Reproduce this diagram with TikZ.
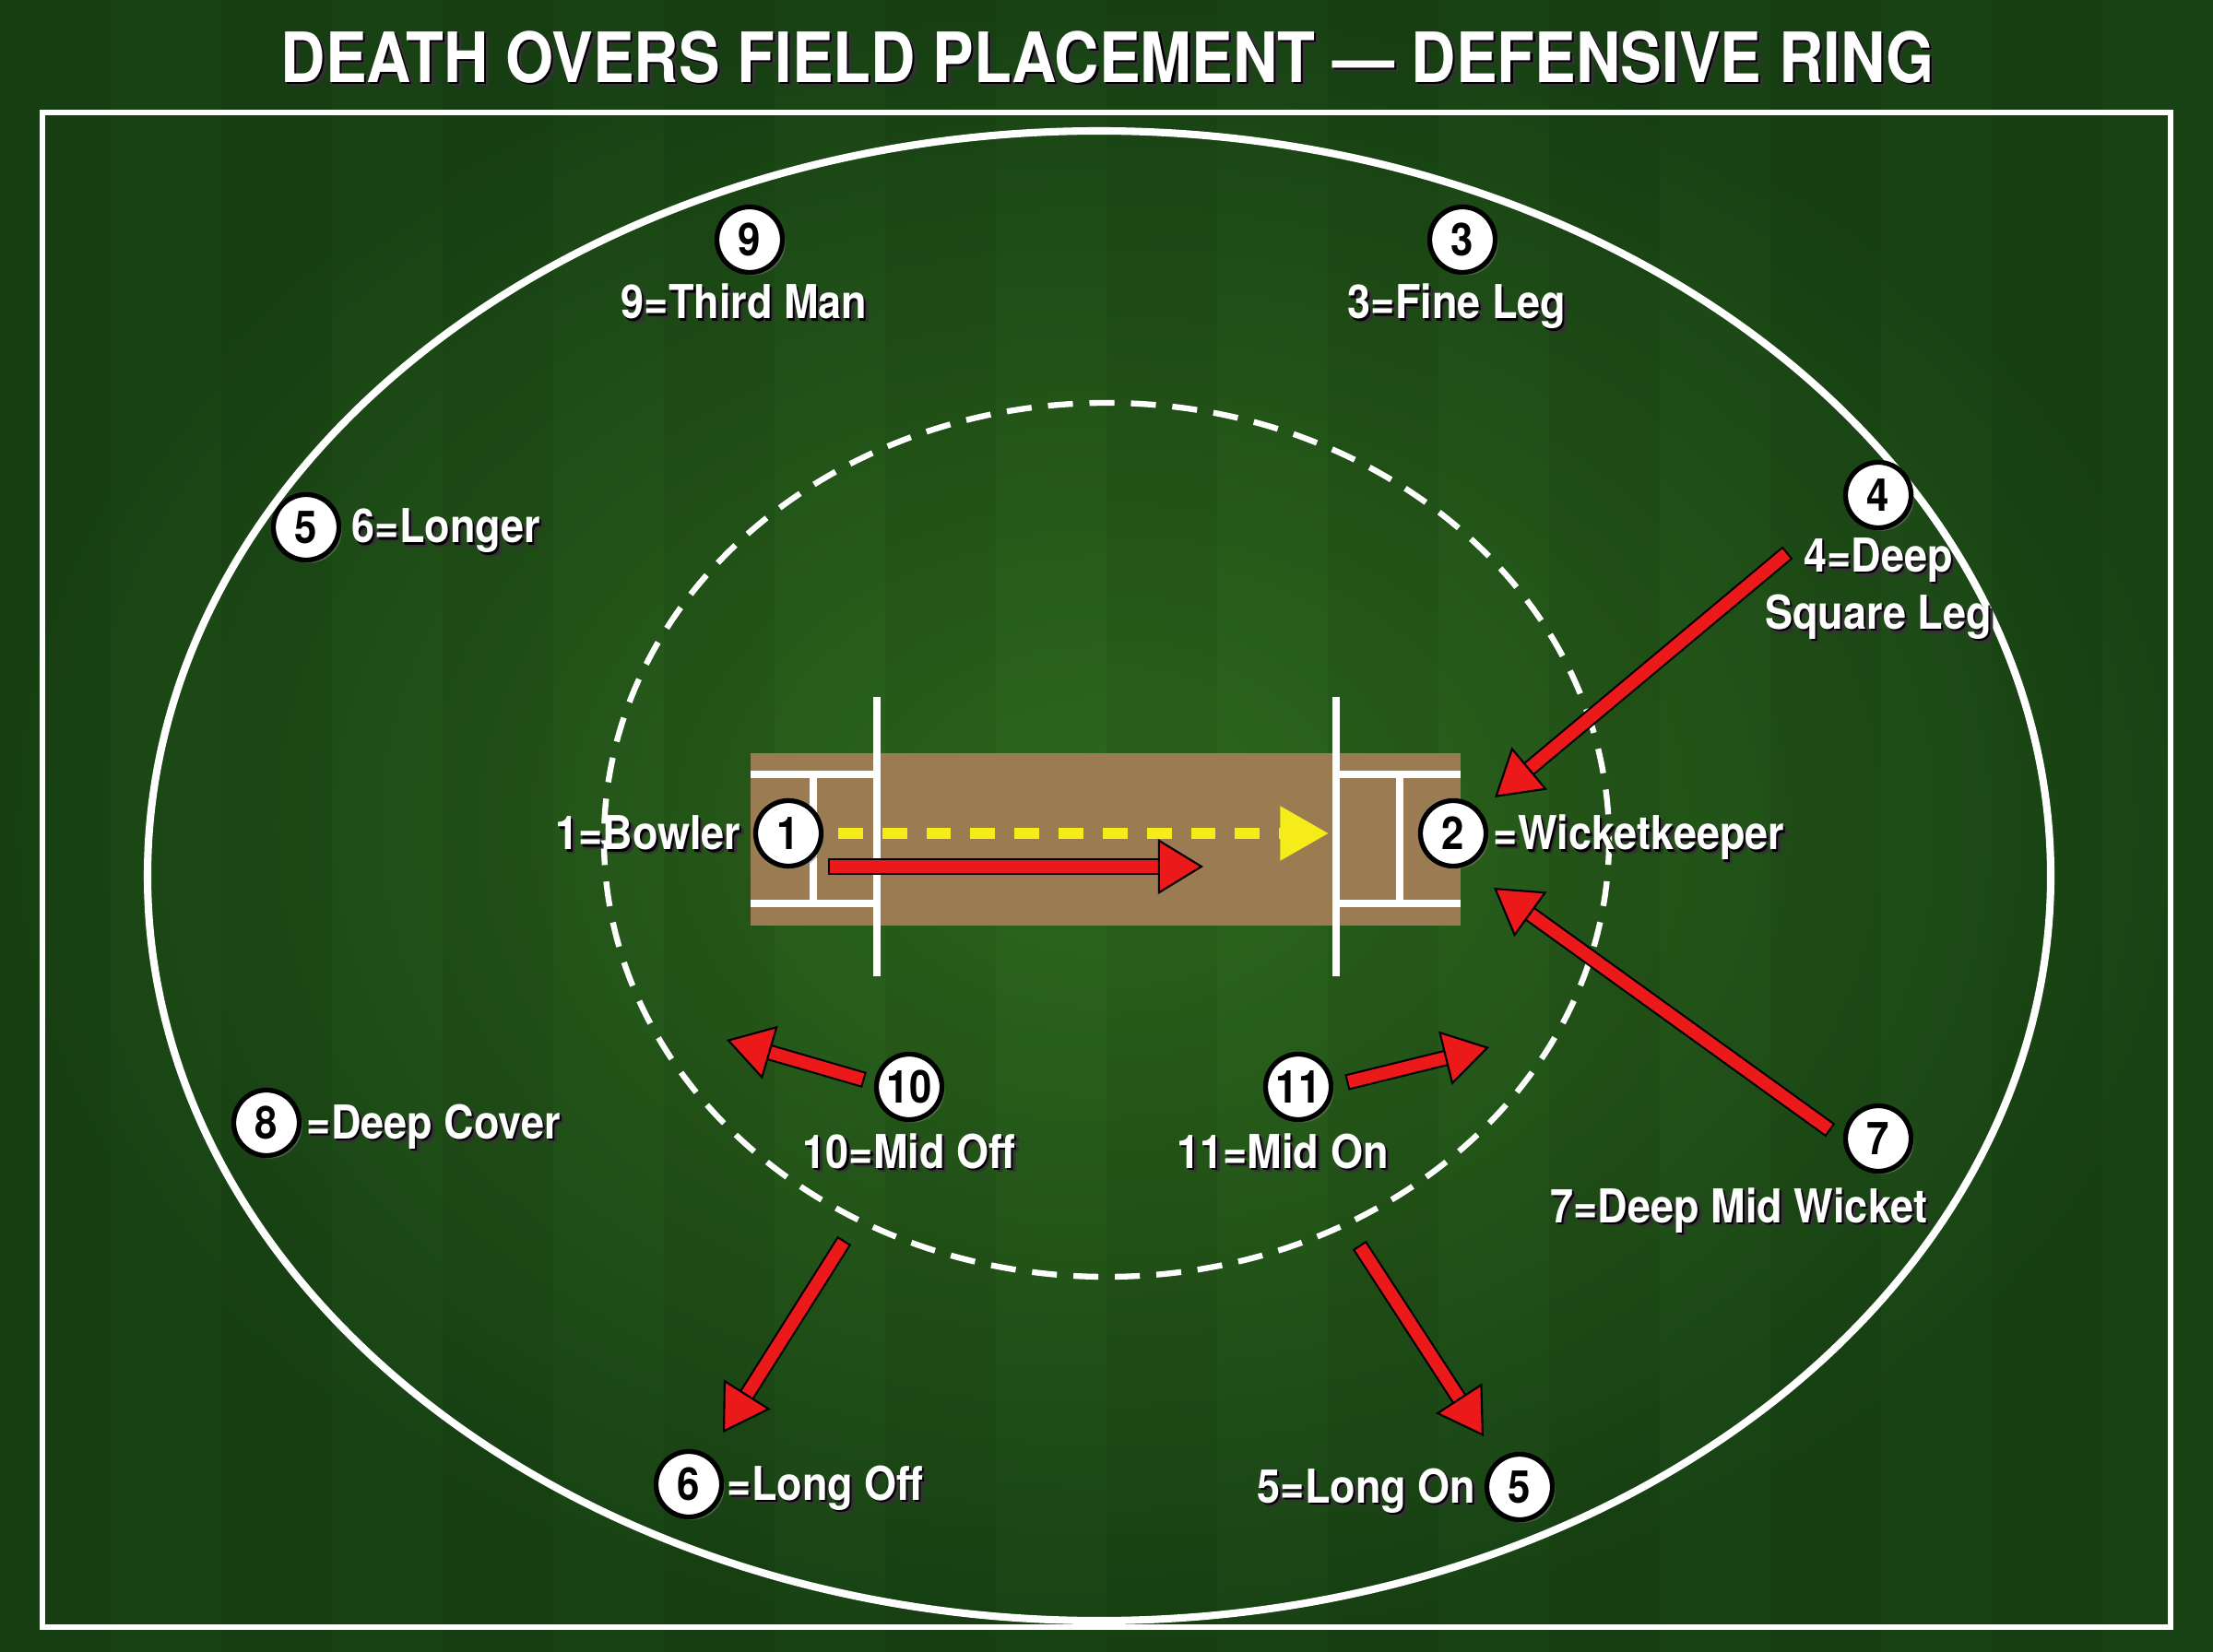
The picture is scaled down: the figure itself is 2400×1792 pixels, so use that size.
\documentclass[tikz,border=0pt]{standalone}
\usepackage{fontspec}
\setmainfont{TeX Gyre Heros}[FakeStretch=0.89]
\usetikzlibrary{calc,arrows.meta,shadows}

\definecolor{grassdark}{RGB}{24,66,20}
\definecolor{grasslight}{RGB}{46,104,29}
\definecolor{pitchbrown}{RGB}{154,123,82}
\definecolor{arrowred}{RGB}{235,25,25}
\definecolor{ballyellow}{RGB}{245,236,25}

\newcommand{\shadowtext}[1]{\leavevmode\rlap{\kern1.3pt\raisebox{-1.3pt}{\textcolor{black!80}{#1}}}\rlap{\kern0.6pt\raisebox{-0.6pt}{\textcolor{black}{#1}}}#1}
\newcommand{\movearrow}[2]{\draw[movearrow] (#1) -- (#2); \draw[movehead] ($(#2)!14pt!(#1)$) -- (#2);}

\tikzset{
  fielder/.style={circle, fill=white, draw=black, line width=1.5pt, minimum size=0.71cm, inner sep=0pt,
    font=\bfseries\fontsize{14}{14}\selectfont,
    drop shadow={shadow xshift=0.9pt, shadow yshift=-0.9pt, opacity=0.5}},
  poslabel/.style={text=white, font=\bfseries\fontsize{14.4}{17.6}\selectfont, inner sep=0pt, align=center},
  chalk/.style={white, line width=2.3pt},
  movearrow/.style={draw=black, line width=0.6pt, double=arrowred, double distance=3.8pt,
    line cap=rect, shorten >=13pt},
  movehead/.style={black, line width=0.6pt, -{Triangle[length=14pt, width=17pt, fill=arrowred]}},
}

\begin{document}
\begin{tikzpicture}[x=0.01cm, y=-0.01cm]
	\useasboundingbox (0,0) rectangle (2400,1792);
	% grass
	\shade[inner color=grasslight, outer color=grassdark] (0,0) rectangle (2400,1792);
	\foreach \s in {0,240,...,2160}
		\fill[black, opacity=0.05] (\s,0) rectangle ++(120,1792);

	\node[text=white, font=\bfseries\fontsize{21.4}{26}\selectfont, inner sep=0pt] (title) at (1201,64)
		{\shadowtext{DEATH OVERS FIELD PLACEMENT — DEFENSIVE RING}};

	% boundary and ring
	\draw[chalk, line width=1.9pt] (46,122) rectangle (2354,1765);
	\draw[chalk] (1192,950) ellipse [x radius=1032, y radius=808];
	\draw[chalk, line width=1.8pt, dash pattern=on 7.7pt off 5.1pt] (1200,911) ellipse [x radius=545, y radius=474];

	% pitch
	\fill[pitchbrown] (814,817) rectangle (1584,1004);
	\draw[chalk] (951,756) -- (951,1059) (1449,756) -- (1449,1059);
	\draw[chalk] (814,840) -- (951,840) (814,980) -- (951,980) (882,840) -- (882,980);
	\draw[chalk] (1449,840) -- (1584,840) (1449,980) -- (1584,980) (1518,840) -- (1518,980);

	% arrow ends
	\coordinate (run0) at (907,940);   \coordinate (run1) at (1305,940);
	\coordinate (ball0) at (909,904);  \coordinate (ball1) at (1441,904);
	\coordinate (sq0) at (1932,605);   \coordinate (sq1) at (1621,865);
	\coordinate (mw0) at (1978,1221);  \coordinate (mw1) at (1620,963);
	\coordinate (mo0) at (929,1169);   \coordinate (mo1) at (788,1128);
	\coordinate (mn0) at (1469,1172);  \coordinate (mn1) at (1615,1136);
	\coordinate (lo0) at (911,1353);   \coordinate (lo1) at (784,1554);
	\coordinate (ln0) at (1479,1358);  \coordinate (ln1) at (1609,1558);

	\draw[ballyellow, line width=3.2pt, dash pattern=on 7.6pt off 6pt,
		-{Triangle[length=15pt, width=16pt]}] (ball0) -- (ball1);
	\movearrow{run0}{run1}
	\movearrow{sq0}{sq1}
	\movearrow{mw0}{mw1}
	\movearrow{mo0}{mo1}
	\movearrow{mn0}{mn1}
	\movearrow{lo0}{lo1}
	\movearrow{ln0}{ln1}

	% fielders
	\foreach \name/\num/\pos in {f1/1/{855,904}, f2/2/{1576,904}, f3/3/{1586,260}, f4/4/{2037,537},
		f5a/5/{332,572}, f5b/5/{1648,1613}, f6/6/{747,1610}, f7/7/{2037,1235},
		f8/8/{289,1218}, f9/9/{813,260}, f10/10/{986,1179}, f11/11/{1408,1179}}
		\node[fielder] (\name) at (\pos) {\num};

	% labels
	\node[poslabel, anchor=base] (l9) at (807,346) {\shadowtext{9=Third Man}};
	\node[poslabel, anchor=base] (l3) at (1580,346) {\shadowtext{3=Fine Leg}};
	\node[poslabel] (l4) at (2037,641) {\shadowtext{4=Deep}\\\shadowtext{Square Leg}};
	\node[poslabel, anchor=base west] (l5a) at (381,589) {\shadowtext{6=Longer}};
	\node[poslabel, anchor=base east] (l1) at (804,922) {\shadowtext{1=Bowler}};
	\node[poslabel, anchor=base west] (l2) at (1619,922) {\shadowtext{=Wicketkeeper}};
	\node[poslabel, anchor=base] (l10) at (986,1267) {\shadowtext{10=Mid Off}};
	\node[poslabel, anchor=base] (l11) at (1391,1267) {\shadowtext{11=Mid On}};
	\node[poslabel, anchor=base] (l7) at (1886,1326) {\shadowtext{7=Deep Mid Wicket}};
	\node[poslabel, anchor=base west] (l8) at (332,1235) {\shadowtext{=Deep Cover}};
	\node[poslabel, anchor=base west] (l6) at (788,1627) {\shadowtext{=Long Off}};
	\node[poslabel, anchor=base east] (l5b) at (1601,1630) {\shadowtext{5=Long On}};
\end{tikzpicture}
\end{document}
